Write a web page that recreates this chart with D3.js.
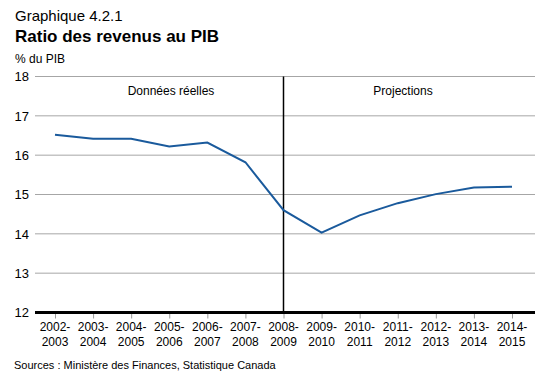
<!DOCTYPE html>
<html><head><meta charset="utf-8">
<script src="https://cdn.jsdelivr.net/npm/d3@7"></script>
<style>body{margin:0;background:#fff}svg{font-family:"Liberation Sans",Arial,sans-serif}</style>
</head><body><svg id="c" width="560" height="382"></svg>
<script>
const categories = ["2002-2003","2003-2004","2004-2005","2005-2006","2006-2007","2007-2008","2008-2009","2009-2010","2010-2011","2011-2012","2012-2013","2013-2014","2014-2015"];
const ratio = [16.52,16.42,16.42,16.22,16.32,15.82,14.6,14.03,14.47,14.78,15.01,15.18,15.2];
const yTicks = [12,13,14,15,16,17,18];
const splitCategory = "2008-2009";

const svg = d3.select("#c");
const x = d3.scalePoint().domain(categories).range([55,512]);
const y = d3.scaleLinear().domain([12,18]).range([312.5,76.5]);

svg.append("text").attr("x",15).attr("y",21).attr("font-size",15).text("Graphique 4.2.1");
svg.append("text").attr("x",15).attr("y",42).attr("font-size",17).attr("font-weight","bold").text("Ratio des revenus au PIB");
svg.append("text").attr("x",15).attr("y",63).attr("font-size",12).text("% du PIB");

// grid
svg.append("g").selectAll("line").data(yTicks.filter(d=>d>12)).join("line")
  .attr("x1",35).attr("x2",535).attr("y1",d=>y(d)).attr("y2",d=>y(d))
  .attr("stroke","#a6a6a6").attr("stroke-width",1);

// y labels
const ya = svg.append("g").attr("transform","translate(35,0)")
  .call(d3.axisLeft(y).tickValues(yTicks).tickSize(0).tickPadding(6).tickFormat(d3.format("d")));
ya.select(".domain").remove();
ya.selectAll("text").attr("font-size",13).attr("font-family","Liberation Sans, Arial, sans-serif").attr("fill","#000");

// x axis ticks
const xa = svg.append("g").attr("transform",`translate(0,${y(12)})`)
  .call(d3.axisBottom(x).tickSize(6).tickFormat(""));
xa.select(".domain").remove();
xa.selectAll("line").attr("stroke","#999");
const lab = svg.append("g").selectAll("text").data(categories).join("text")
  .attr("x",d=>x(d)).attr("text-anchor","middle").attr("font-size",12);
lab.append("tspan").attr("x",d=>x(d)).attr("y",331).text(d=>d.split("-")[0]+"-");
lab.append("tspan").attr("x",d=>x(d)).attr("y",346).text(d=>d.split("-")[1]);

// split line
svg.append("line").attr("x1",x(splitCategory)).attr("x2",x(splitCategory))
  .attr("y1",y(18)).attr("y2",y(12)).attr("stroke","#000").attr("stroke-width",1.5);

// baseline
svg.append("line").attr("x1",35).attr("x2",535).attr("y1",y(12)).attr("y2",y(12))
  .attr("stroke","#000").attr("stroke-width",3);

svg.append("text").attr("x",171).attr("y",95).attr("text-anchor","middle").attr("font-size",12).text("Données réelles");
svg.append("text").attr("x",403).attr("y",95).attr("text-anchor","middle").attr("font-size",12).text("Projections");

svg.append("path").datum(ratio)
  .attr("d",d3.line().x((d,i)=>x(categories[i])).y(d=>y(d)))
  .attr("fill","none").attr("stroke","#1a5a9c").attr("stroke-width",2);

svg.append("text").attr("x",14).attr("y",369).attr("font-size",11).text("Sources : Ministère des Finances, Statistique Canada");
</script></body></html>
